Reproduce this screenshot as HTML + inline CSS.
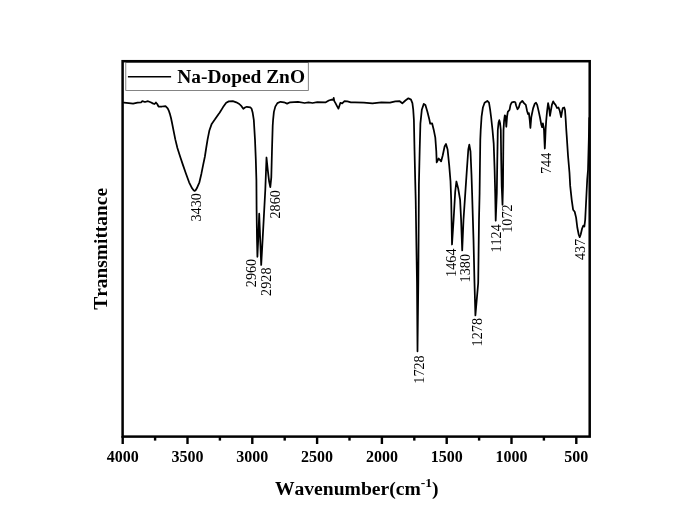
<!DOCTYPE html>
<html><head><meta charset="utf-8"><title>FTIR Na-Doped ZnO</title>
<style>
html,body{margin:0;padding:0;background:#fff;}
body{width:685px;height:524px;overflow:hidden;}
svg{display:block;}
text{font-family:"Liberation Serif","Times New Roman",serif;fill:#000;font-kerning:none;}
.b{font-weight:bold;}
</style></head><body>
<svg width="685" height="524" viewBox="0 0 685 524">
<rect width="685" height="524" fill="#fff"/>
<path d="M123.9,102.7 L128.8,103.1 L133.1,103.6 L137.5,102.7 L141.0,102.5 L142.3,101.1 L145.0,102.0 L148.0,101.2 L150.6,102.3 L153.3,103.6 L154.6,104.0 L155.9,102.5 L157.2,104.0 L158.5,106.5 L162.0,106.5 L165.5,106.2 L167.7,108.4 L169.0,111.2 L169.8,113.6 L171.0,118.0 L171.9,122.2 L173.6,130.8 L175.3,139.4 L177.4,148.0 L180.1,156.5 L183.0,165.1 L186.0,173.7 L189.1,182.3 L192.1,188.3 L193.6,190.3 L194.6,190.9 L195.6,190.3 L196.8,188.3 L199.4,182.3 L201.4,173.7 L203.1,165.1 L204.9,156.5 L206.2,148.0 L207.6,139.4 L209.3,130.8 L211.7,123.9 L214.8,119.6 L218.3,114.5 L219.6,112.8 L223.1,107.1 L226.2,102.7 L228.8,101.4 L232.8,101.2 L236.3,102.3 L239.3,104.0 L241.5,106.2 L243.3,108.8 L245.0,107.5 L246.8,106.8 L250.3,107.3 L251.6,108.8 L252.7,112.8 L253.8,119.8 L255.0,139.6 L255.8,159.4 L256.4,180.0 L256.6,209.7 L257.0,239.4 L257.4,256.8 L258.4,235.5 L259.2,213.7 L260.2,239.4 L261.2,265.0 L262.3,245.4 L263.7,219.6 L265.3,189.8 L266.5,157.5 L267.7,169.4 L269.1,181.3 L270.3,187.2 L271.3,177.3 L272.0,149.5 L272.7,125.7 L273.1,119.8 L273.9,111.9 L275.3,106.6 L277.4,103.1 L280.5,101.8 L284.0,102.3 L287.1,103.6 L290.1,102.3 L298.0,101.8 L304.6,103.0 L308.5,102.3 L312.5,103.0 L317.3,102.1 L325.8,102.3 L328.8,100.5 L331.7,99.6 L333.1,99.9 L333.7,97.9 L334.3,101.1 L335.5,103.1 L336.9,105.8 L338.4,108.7 L339.6,105.2 L340.4,102.8 L342.2,103.3 L344.5,101.1 L347.4,101.4 L350.9,102.3 L355.0,102.3 L363.8,102.7 L372.5,103.3 L381.3,102.4 L390.0,102.7 L395.3,101.4 L399.7,101.2 L402.3,103.3 L405.4,100.5 L408.4,98.3 L411.0,99.6 L412.4,103.1 L413.2,109.3 L413.9,119.8 L414.5,149.5 L415.2,180.0 L415.7,200.0 L416.3,239.5 L417.0,283.0 L417.5,351.3 L418.3,283.0 L418.6,239.5 L418.9,185.0 L419.7,149.5 L420.4,123.7 L421.8,109.8 L423.8,103.9 L425.4,104.9 L427.4,111.8 L429.4,119.8 L430.2,123.7 L432.1,123.3 L433.7,129.7 L435.3,137.6 L436.3,151.5 L436.7,162.4 L438.7,158.5 L441.1,161.4 L442.7,155.5 L444.6,146.5 L446.0,144.0 L447.6,149.5 L449.2,165.4 L450.5,181.3 L451.2,200.0 L452.0,244.5 L453.6,219.7 L455.2,191.9 L456.4,181.5 L458.2,188.5 L460.1,199.8 L461.1,219.7 L462.2,250.4 L463.5,219.7 L465.1,195.9 L466.9,169.4 L468.3,149.5 L469.3,144.6 L470.5,151.5 L471.5,175.0 L472.1,193.2 L473.5,239.5 L474.5,283.0 L475.4,315.4 L478.2,283.0 L479.0,219.7 L479.6,193.2 L479.9,169.4 L480.3,139.6 L480.7,130.0 L481.6,116.3 L482.9,107.5 L484.6,102.7 L487.3,100.9 L489.0,102.7 L490.1,109.3 L491.2,118.0 L492.5,130.0 L493.7,143.6 L494.6,169.4 L495.2,193.2 L495.7,220.7 L496.8,193.2 L497.3,160.0 L497.8,130.0 L498.6,122.4 L499.3,120.2 L500.1,123.3 L500.8,130.0 L501.2,160.0 L501.7,186.0 L502.5,204.8 L503.0,186.0 L503.3,149.5 L503.5,130.0 L504.1,120.6 L504.8,115.4 L505.6,116.3 L506.3,126.8 L507.1,116.3 L507.8,111.9 L509.6,109.7 L510.5,104.9 L511.8,102.3 L514.0,101.8 L515.3,102.3 L516.2,105.8 L517.5,109.3 L518.8,107.5 L520.1,103.1 L522.3,100.9 L524.0,103.1 L525.8,104.9 L527.1,111.0 L528.0,114.1 L528.9,113.2 L529.7,119.8 L530.4,128.0 L531.3,117.0 L533.1,108.4 L534.8,103.6 L536.0,102.7 L537.2,104.9 L538.8,111.9 L540.1,118.0 L541.2,124.2 L542.1,127.2 L542.9,123.3 L543.6,126.8 L544.0,130.0 L544.4,139.6 L544.8,148.5 L545.3,138.0 L545.6,130.0 L546.2,120.6 L547.1,111.0 L548.1,103.1 L549.0,107.5 L550.0,115.8 L550.8,111.0 L551.9,104.9 L553.2,101.4 L554.5,103.6 L555.8,105.3 L557.0,108.0 L558.5,107.5 L559.8,111.0 L561.1,117.1 L562.0,111.9 L562.8,108.0 L564.2,107.5 L565.0,110.1 L565.6,118.0 L566.3,130.0 L566.7,135.6 L568.0,155.5 L569.5,173.0 L570.2,185.9 L571.7,199.8 L573.1,209.7 L574.7,211.7 L576.1,217.6 L577.3,227.5 L578.7,234.5 L579.7,237.1 L580.7,234.5 L582.1,228.5 L583.3,225.6 L584.4,226.5 L585.2,219.6 L586.2,199.8 L587.2,179.9 L588.0,170.0 L588.8,140.0 L589.3,118.0" fill="none" stroke="#000" stroke-width="1.75" stroke-linejoin="round" stroke-linecap="round"/>
<rect x="125.8" y="62.6" width="182.5" height="27.8" fill="#fff" stroke="#666" stroke-width="0.8"/>
<line x1="127.9" y1="76.7" x2="171.1" y2="76.7" stroke="#000" stroke-width="1.5"/>
<text class="b" x="177.3" y="83.3" font-size="19.4">Na-Doped ZnO</text>
<rect x="122.6" y="61.2" width="467.1" height="375.4" fill="none" stroke="#000" stroke-width="2.5"/>
<g stroke="#000" stroke-width="2.4"><line x1="122.7" y1="436" x2="122.7" y2="444"/><line x1="155.1" y1="436" x2="155.1" y2="440.6"/><line x1="187.5" y1="436" x2="187.5" y2="444"/><line x1="219.9" y1="436" x2="219.9" y2="440.6"/><line x1="252.3" y1="436" x2="252.3" y2="444"/><line x1="284.7" y1="436" x2="284.7" y2="440.6"/><line x1="317.1" y1="436" x2="317.1" y2="444"/><line x1="349.5" y1="436" x2="349.5" y2="440.6"/><line x1="381.9" y1="436" x2="381.9" y2="444"/><line x1="414.3" y1="436" x2="414.3" y2="440.6"/><line x1="446.7" y1="436" x2="446.7" y2="444"/><line x1="479.1" y1="436" x2="479.1" y2="440.6"/><line x1="511.5" y1="436" x2="511.5" y2="444"/><line x1="543.9" y1="436" x2="543.9" y2="440.6"/><line x1="576.3" y1="436" x2="576.3" y2="444"/></g>
<g class="b" font-size="16" text-anchor="middle"><text x="122.7" y="462">4000</text><text x="187.5" y="462">3500</text><text x="252.3" y="462">3000</text><text x="317.1" y="462">2500</text><text x="381.9" y="462">2000</text><text x="446.7" y="462">1500</text><text x="511.5" y="462">1000</text><text x="576.3" y="462">500</text></g>
<g font-size="14.2"><text transform="translate(200.7,221.5) rotate(-90)">3430</text><text transform="translate(256.3,287.2) rotate(-90)">2960</text><text transform="translate(270.5,295.9) rotate(-90)">2928</text><text transform="translate(279.7,218.5) rotate(-90)">2860</text><text transform="translate(423.6,383.7) rotate(-90)">1728</text><text transform="translate(456.4,276.9) rotate(-90)">1464</text><text transform="translate(470.4,282.4) rotate(-90)">1380</text><text transform="translate(482.0,346.4) rotate(-90)">1278</text><text transform="translate(501.2,252.6) rotate(-90)">1124</text><text transform="translate(511.8,232.8) rotate(-90)">1072</text><text transform="translate(550.5,174) rotate(-90)">744</text><text transform="translate(585.2,260.1) rotate(-90)">437</text></g>
<text class="b" font-size="19.6" x="274.9" y="494.8">Wavenumber(cm<tspan font-size="13.5" dy="-8.2">-1</tspan><tspan dy="8.2">)</tspan></text>
<text class="b" font-size="19.4" transform="translate(106.5,309.7) rotate(-90)">Transmittance</text>
</svg>
</body></html>
